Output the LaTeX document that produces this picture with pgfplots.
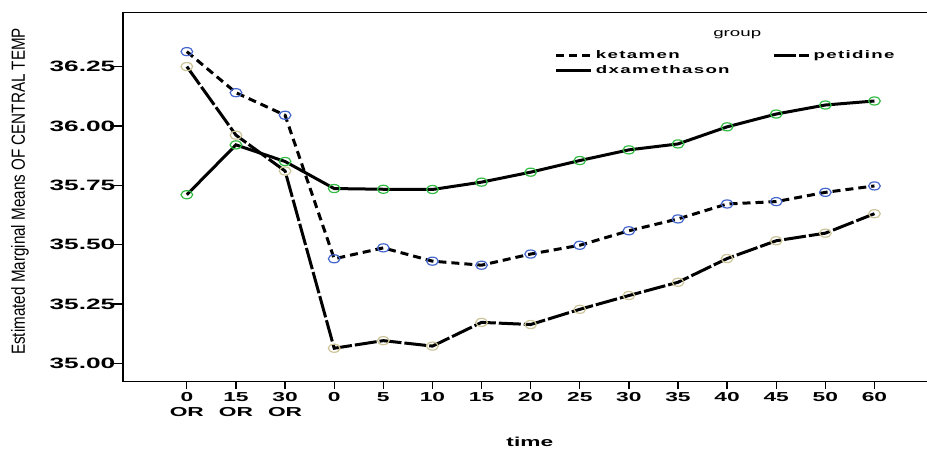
\documentclass[border=0pt]{standalone}
\usepackage{fontspec}
\usepackage{pgfplots}
\pgfplotsset{compat=1.18}
\setmainfont{Liberation Sans}
\newfontfamily\wide{Liberation Sans}[FakeStretch=1.75]
\newfontfamily\widel{Liberation Sans}[FakeStretch=1.7, LetterSpace=12]
\newfontfamily\widg{Liberation Sans}[FakeStretch=1.7]
\newfontfamily\narrow{Liberation Sans}[FakeStretch=0.8]
\definecolor{ketblue}{HTML}{4466CC}
\definecolor{pettan}{HTML}{CCC499}
\definecolor{dxgreen}{HTML}{33BB44}
\begin{document}
\begin{tikzpicture}
\begin{axis}[
  name=ax,
  scale only axis,
  width=804pt, height=369.7pt,
  xmin=-1.3, xmax=15.07,
  ymin=34.922, ymax=36.48,
  axis x line*=bottom, axis y line*=left,
  axis line style={-, line width=1.3pt},
  tick align=outside,
  major tick length=7pt,
  tick style={line width=1.3pt, black},
  ytick style={/pgfplots/major tick length=13pt},
  xtick={0,1,...,14},
  xticklabels={{0\\OR},{15\\OR},{30\\OR},0,5,10,15,20,25,30,35,40,45,50,60},
  ytick={35,35.25,35.5,35.75,36,36.25},
  yticklabels={35.00,35.25,35.50,35.75,36.00,36.25},
  xticklabel style={font=\wide\bfseries\fontsize{13}{15}\selectfont, align=center, anchor=north, inner sep=1pt, yshift=-3pt},
  yticklabel style={font=\wide\bfseries\fontsize{15}{17}\selectfont, anchor=east, inner sep=0.5pt},
  xlabel={time},
  xlabel style={font=\wide\bfseries\fontsize{13}{15}\selectfont, at={(axis description cs:0.506,-0.163)}, anchor=center},
  ylabel={Estimated Marginal Means OF CENTRAL TEMP},
  ylabel style={font=\narrow\fontsize{19}{21}\selectfont, at={(axis description cs:-0.128,0.515)}, anchor=center, rotate=0},
  legend columns=2,
  legend cell align=left,
  legend style={draw=none, fill=none, inner sep=0pt,
    at={(axis description cs:0.537,0.9)}, anchor=north west,
    font=\widel\bfseries\fontsize{11}{13}\selectfont,
    nodes={inner xsep=3pt, inner ysep=1.5pt},
    row sep=2.5pt,
    /tikz/every even column/.append style={column sep=40pt}},
  legend image code/.code={\draw[#1, line width=3pt, mark=none] (0pt,0pt) -- (35pt,0pt);},
]
\addplot[black, line width=3pt, dash pattern=on 8pt off 5pt, mark=o, mark size=4.5pt,
  mark options={solid, draw=ketblue, line width=1.2pt, xscale=1.3, yscale=0.9}]
  coordinates {(0,36.313) (1,36.14) (2,36.045) (3,35.44) (4,35.486) (5,35.43) (6,35.413) (7,35.46) (8,35.497) (9,35.558) (10,35.608) (11,35.671) (12,35.681) (13,35.72) (14,35.747)};
\addlegendentry{ketamen}
\addplot[black, line width=3pt, dash pattern=on 22pt off 3pt, mark=o, mark size=4.5pt,
  mark options={solid, draw=pettan, line width=1.2pt, xscale=1.3, yscale=0.9}]
  coordinates {(0,36.25) (1,35.961) (2,35.81) (3,35.063) (4,35.095) (5,35.072) (6,35.172) (7,35.163) (8,35.227) (9,35.285) (10,35.341) (11,35.441) (12,35.516) (13,35.548) (14,35.63)};
\addlegendentry{petidine}
\addplot[black, line width=3pt, solid, mark=o, mark size=4.5pt,
  mark options={solid, draw=dxgreen, line width=1.2pt, xscale=1.3, yscale=0.9}]
  coordinates {(0,35.71) (1,35.92) (2,35.85) (3,35.736) (4,35.733) (5,35.732) (6,35.763) (7,35.805) (8,35.854) (9,35.899) (10,35.924) (11,35.996) (12,36.05) (13,36.088) (14,36.105)};
\addlegendentry{dxamethason}
\draw[line width=1.3pt] (rel axis cs:0,1) -- (rel axis cs:1,1);
\node[font=\widg\fontsize{11}{13}\selectfont] at (axis description cs:0.764,0.938) {group};
\end{axis}
\pgfresetboundingbox
\path[use as bounding box] ([xshift=-123pt,yshift=-66.3pt]ax.south west) rectangle ++(927pt,448pt);
\end{tikzpicture}
\end{document}
